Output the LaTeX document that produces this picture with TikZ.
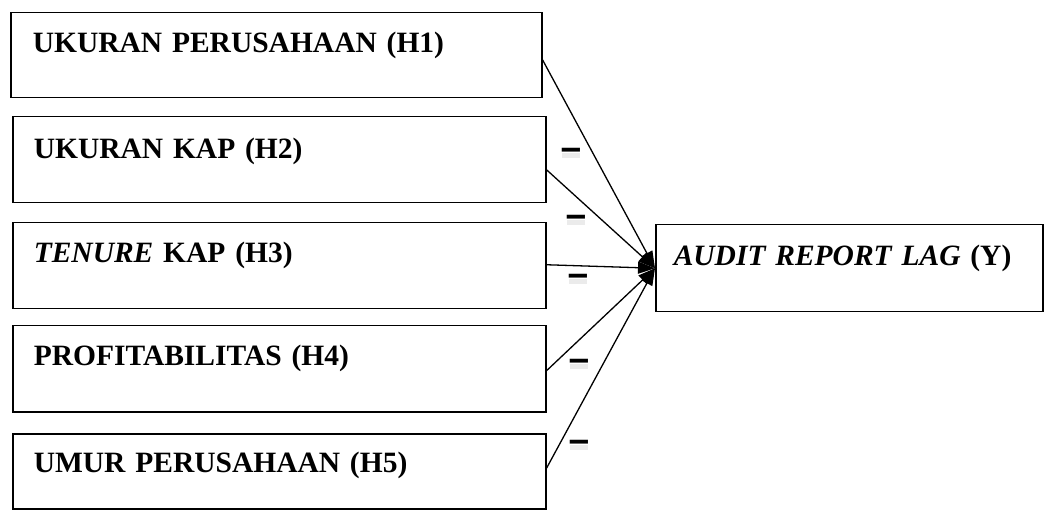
\documentclass[tikz,border=0pt]{standalone}
\usepackage{fontspec}
\setmainfont{Liberation Serif}
\newfontfamily\dashfont{DejaVu Sans}
\usetikzlibrary{arrows.meta}
\tikzset{
  varbox/.style={draw=black, line width=1.5pt, anchor=north west, inner xsep=#1, inner ysep=0pt,
    align=left, font=\fontsize{29.5pt}{33pt}\selectfont\bfseries},
  conn/.style={line width=1.3pt, -{Triangle[length=17pt,width=12pt]}},
  minus/.style={inner sep=0pt, anchor=base, font=\dashfont\fontsize{32pt}{34pt}\selectfont\bfseries},
}
\begin{document}
\begin{tikzpicture}[x=1pt,y=-1pt]
\useasboundingbox (0,0) rectangle (1057,510);
\node[varbox=22pt, text width=487pt, text height=40pt, text depth=45pt] (b1) at (10,12) {UKURAN PERUSAHAAN (H1)};
\node[varbox=21pt, text width=491pt, text height=42pt, text depth=44pt] (b2) at (12,116) {UKURAN KAP (H2)};
\node[varbox=21pt, text width=491pt, text height=40pt, text depth=46pt] (b3) at (12,222) {\textit{TENURE} KAP (H3)};
\node[varbox=21pt, text width=491pt, text height=40pt, text depth=46pt] (b4) at (12,325) {PROFITABILITAS (H4)};
\node[varbox=21pt, text width=491pt, text height=39pt, text depth=36pt] (b5) at (12,433) {UMUR PERUSAHAAN (H5)};
\node[varbox=18pt, text width=351pt, text height=41pt, text depth=46pt] (y) at (655,224) {\textit{AUDIT REPORT LAG} (Y)};
\draw[conn] ([yshift=-4.5pt]b1.east) -- (y.west);
\draw[conn] ([yshift=-10pt]b2.east) -- (y.west);
\draw[conn] ([yshift=1pt]b3.east) -- (y.west);
\draw[conn] ([yshift=-2pt]b4.east) -- (y.west);
\draw[conn] ([yshift=3pt]b5.east) -- (y.west);
\foreach \n/\x/\y in {m1/571/151, m2/576/218, m3/578/277, m4/579/362, m5/579/443}{
  \fill[black!8] (\x-9,\y+2) rectangle (\x+9,\y+7);
  \node[minus] (\n) at (\x,\y+7.5) {\scalebox{1.45}[0.95]{–}};
}
\end{tikzpicture}
\end{document}
